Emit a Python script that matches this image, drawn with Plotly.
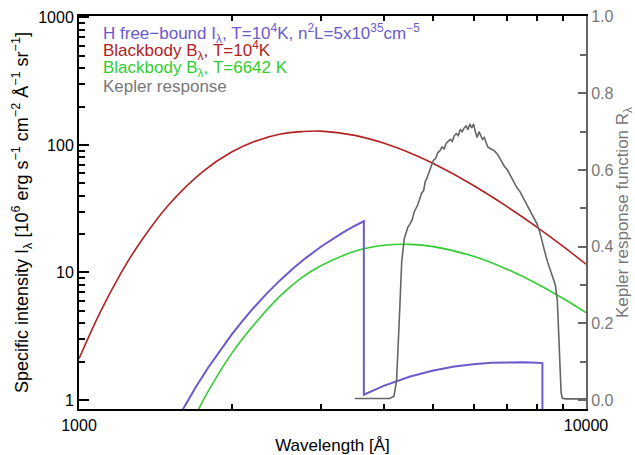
import plotly.graph_objects as go

# ---------------- data ----------------
# Blackbody, T = 1e4 K  [10^6 erg s^-1 cm^-2 A^-1 sr^-1]
bb1_wl = [1000, 1100, 1200, 1300, 1500, 1750, 2000, 2250, 2500, 2750, 3000, 3500,
          4000, 4500, 5000, 6000, 7000, 8000, 9000, 10000]
bb1_I = [2.11, 4.85, 9.33, 15.7, 33.6, 61.3, 87.9, 108.5, 121.7, 127.0, 128.3, 118.7,
         103.0, 86.4, 71.4, 48.1, 32.7, 22.7, 16.1, 11.6]

# Blackbody, T = 6642 K
bb2_wl = [1700, 1800, 2000, 2250, 2500, 2750, 3000, 3500, 4000, 4500, 5000, 6000,
          7000, 8000, 9000, 10000]
bb2_I = [0.77, 1.18, 2.31, 4.20, 6.61, 9.10, 11.27, 14.65, 16.32, 16.59, 15.94, 13.37,
         10.56, 8.16, 6.27, 4.84]

# H free-bound continuum (Balmer part, then Paschen part)
balmer_wl = [1550, 1600, 1650, 1700, 1800, 1900, 2000, 2100, 2200, 2350, 2500, 2650,
             2800, 3000, 3150, 3300, 3475, 3646]
balmer_I = [0.671, 0.842, 1.039, 1.266, 1.806, 2.470, 3.254, 4.157, 5.173, 6.881,
            8.780, 10.82, 12.96, 15.91, 18.13, 20.33, 22.84, 25.2]
paschen_wl = [3646, 4000, 4500, 5000, 5500, 6000, 6500, 7000, 7500, 8000, 8204, 8204]
paschen_I = [1.10, 1.296, 1.527, 1.703, 1.828, 1.910, 1.957, 1.976, 1.975, 1.957,
             1.946, 0.45]

# Kepler response function
kep_wl = [3500, 3800, 4100, 4180, 4230, 4280, 4330, 4380, 4450, 4500, 4540, 4580,
          4620, 4660, 4700, 4740, 4780, 4820, 4860, 4900, 4950, 5000, 5050, 5100,
          5150, 5200, 5250, 5300, 5350, 5400, 5450, 5500, 5550, 5600, 5650, 5700,
          5750, 5800, 5850, 5900, 5950, 6000, 6050, 6100, 6150, 6200, 6250, 6300,
          6350, 6400, 6500, 6600, 6700, 6800, 6900, 7000, 7100, 7200, 7300, 7400,
          7500, 7600, 7700, 7800, 7900, 8000, 8100, 8200, 8300, 8400, 8500, 8600,
          8700, 8780, 8830, 8880, 8930, 8980, 9100, 10000]
kep_R = [0.004, 0.004, 0.004, 0.010, 0.05, 0.20, 0.36, 0.42, 0.45, 0.46, 0.47, 0.49,
         0.50, 0.51, 0.525, 0.54, 0.545, 0.57, 0.58, 0.595, 0.61, 0.625, 0.63, 0.645,
         0.65, 0.66, 0.655, 0.67, 0.675, 0.68, 0.675, 0.69, 0.695, 0.69, 0.705, 0.70,
         0.71, 0.715, 0.705, 0.72, 0.71, 0.72, 0.70, 0.685, 0.70, 0.69, 0.68, 0.685,
         0.67, 0.66, 0.655, 0.65, 0.64, 0.625, 0.61, 0.60, 0.585, 0.57, 0.555, 0.545,
         0.53, 0.515, 0.50, 0.485, 0.475, 0.46, 0.44, 0.41, 0.385, 0.36, 0.34, 0.32,
         0.30, 0.26, 0.18, 0.08, 0.02, 0.005, 0.003, 0.003]

x_ticks = [1000, 10000]
x_minor = [2000, 3000, 4000, 5000, 6000, 7000, 8000, 9000]
y_ticks = [1, 10, 100, 1000]
y_minor = [2, 3, 4, 5, 6, 7, 8, 9, 20, 30, 40, 50, 60, 70, 80, 90,
           200, 300, 400, 500, 600, 700, 800, 900]
r_ticks = [0.0, 0.2, 0.4, 0.6, 0.8, 1.0]
r_minor = [0.1, 0.3, 0.5, 0.7, 0.9]

legend_lines = [
    ("H free\u2212bound I<sub>\u03bb</sub>, T=10<sup>4</sup>K, n<sup>2</sup>L=5x10<sup>35</sup>cm<sup>\u22125</sup>", "#6a5acd"),
    ("Blackbody B<sub>\u03bb</sub>, T=10<sup>4</sup>K", "#b22222"),
    ("Blackbody B<sub>\u03bb</sub>, T=6642 K", "#32cd32"),
    ("Kepler response", "#777777"),
]

# ---------------- figure ----------------
FONT = "Liberation Sans, Arial, Helvetica, sans-serif"
fig = go.Figure()

fig.add_trace(go.Scatter(x=bb1_wl, y=bb1_I, mode="lines", line=dict(color="#b22222", width=1.6, shape="spline"),
                         showlegend=False, hoverinfo="skip"))
fig.add_trace(go.Scatter(x=bb2_wl, y=bb2_I, mode="lines", line=dict(color="#32cd32", width=1.6, shape="spline"),
                         showlegend=False, hoverinfo="skip"))
fig.add_trace(go.Scatter(x=balmer_wl + paschen_wl, y=balmer_I + paschen_I, mode="lines",
                         line=dict(color="#6a5acd", width=2.0), showlegend=False, hoverinfo="skip"))
fig.add_trace(go.Scatter(x=kep_wl, y=kep_R, mode="lines", yaxis="y2",
                         line=dict(color="#666666", width=1.6), showlegend=False, hoverinfo="skip"))

tick_font = dict(family=FONT, size=16, color="black")

fig.update_layout(
    width=635, height=455,
    margin=dict(l=79, r=49, t=16, b=46, autoexpand=False),
    paper_bgcolor="white", plot_bgcolor="white",
    font=dict(family=FONT, size=16, color="black"),
    xaxis=dict(type="log", range=[3, 4], showgrid=False, zeroline=False, automargin=False,
               showline=True, linecolor="black", linewidth=2, mirror="ticks",
               ticks="inside", ticklen=10, tickwidth=1.5, tickcolor="black",
               tickvals=x_ticks, ticktext=[str(v) for v in x_ticks], tickfont=tick_font,
               ticklabelstandoff=1,
               minor=dict(ticks="inside", ticklen=5, tickwidth=1.5, tickcolor="black",
                          tickvals=x_minor, showgrid=False),
               title=dict(text="Wavelength [\u00c5]", font=dict(family=FONT, size=17, color="black"),
                          standoff=8)),
    yaxis=dict(type="log", range=[-0.0706, 3.0106], showgrid=False, zeroline=False, automargin=False,
               showline=True, linecolor="black", linewidth=2,
               ticks="inside", ticklen=10, tickwidth=1.5, tickcolor="black",
               tickvals=y_ticks, ticktext=[str(v) for v in y_ticks], tickfont=tick_font,
               minor=dict(ticks="inside", ticklen=6, tickwidth=1.5, tickcolor="black",
                          tickvals=y_minor, showgrid=False),
               title=dict(text="Specific intensity I<sub>\u03bb</sub> [10<sup>6</sup> erg s<sup>\u22121</sup> cm<sup>\u22122</sup> \u00c5<sup>\u22121</sup> sr<sup>\u22121</sup>]",
                          font=dict(family=FONT, size=18, color="black"), standoff=5)),
    yaxis2=dict(overlaying="y", side="right", range=[-0.0234, 1.0018], showgrid=False, zeroline=False,
                automargin=False,
                showline=True, linecolor="#666666", linewidth=2,
                ticks="inside", ticklen=8, tickwidth=1.5, tickcolor="#666666",
                tickvals=r_ticks, ticktext=["%.1f" % v for v in r_ticks],
                tickfont=dict(family=FONT, size=16, color="#777777"),
                minor=dict(ticks="inside", ticklen=6, tickwidth=1.5, tickcolor="#666666",
                           tickvals=r_minor, showgrid=False),
                title=dict(text="Kepler response function R<sub>\u03bb</sub>",
                           font=dict(family=FONT, size=17, color="#777777"), standoff=14)),
)

leg_y = [0.955, 0.911, 0.865, 0.821]
for (txt, col), yy in zip(legend_lines, leg_y):
    fig.add_annotation(x=0.043, y=yy, xref="paper", yref="paper", text=txt, showarrow=False,
                       xanchor="left", yanchor="middle", font=dict(family=FONT, size=17, color=col))

fig.write_html("out.html")
